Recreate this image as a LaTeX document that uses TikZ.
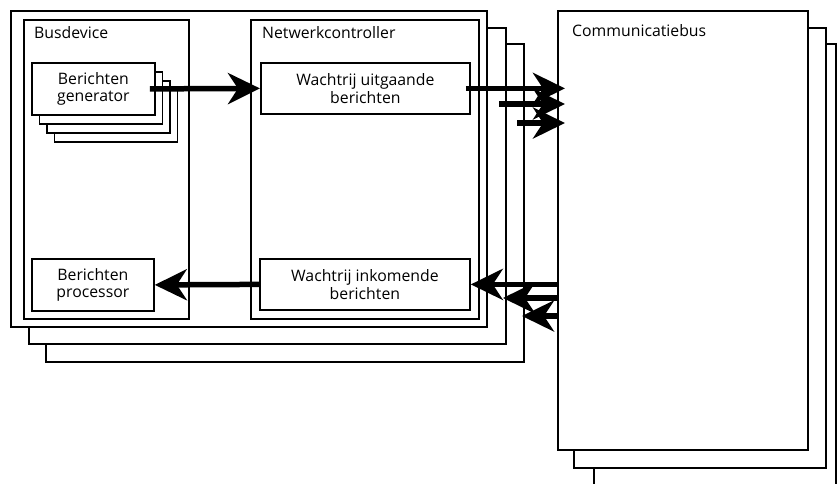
\documentclass[tikz,border=0pt]{standalone}
\usepackage{fontspec}
\setmainfont{Open Sans}
\usetikzlibrary{arrows.meta,calc}
\begin{document}
\begin{tikzpicture}[x=1pt,y=-1pt,
  frame/.style={draw,line width=1.8pt,fill=white,anchor=north west,inner sep=0pt},
  caption/.style={anchor=base west,font=\fontsize{15.8}{18}\selectfont,inner sep=0pt},
  textbox/.style={frame,align=center,font=\fontsize{15.8}{17.5}\selectfont},
  flow/.style={line width=5.5pt,-{Stealth[length=32pt,width=31pt,inset=10pt]}}]
\useasboundingbox (0,0) rectangle (838,483);
\begin{scope}
\clip (0,0) rectangle (838,483);
% stacked bus device frames, back to front
\node[frame,minimum width=478pt,minimum height=318pt] (dev3) at (45,43) {};
\node[frame,minimum width=477pt,minimum height=316pt] (dev2) at (28,27) {};
\node[frame,minimum width=476pt,minimum height=316pt] (dev1) at (10,10) {};
% stacked communication bus frames
\node[frame,minimum width=242pt,minimum height=460pt] (bus3) at (593,43) {};
\node[frame,minimum width=252pt,minimum height=440pt] (bus2) at (573,27) {};
\node[frame,minimum width=250pt,minimum height=439pt] (bus1) at (557,10) {};
\node[caption] (buslbl) at (572,36) {Communicatiebus};
% bus device and network controller
\node[frame,minimum width=165pt,minimum height=299pt] (busdev) at (23,19) {};
\node[caption] (busdevlbl) at (34,38) {Busdevice};
\node[frame,minimum width=228pt,minimum height=299pt] (netctl) at (250,19) {};
\node[caption] (netctllbl) at (262,38) {Netwerkcontroller};
% message generators (stack)
\node[frame,minimum width=123pt,minimum height=52pt] (gen4) at (53.5,89) {};
\node[frame,minimum width=123pt,minimum height=52pt] (gen3) at (46,80) {};
\node[frame,minimum width=123pt,minimum height=52pt] (gen2) at (38.5,71) {};
\node[textbox,minimum width=123pt,minimum height=52pt] (gen1) at (31,62) {Berichten\\generator};
% queues and processor
\node[textbox,minimum width=209pt,minimum height=51pt] (uit) at (260,62) {Wachtrij uitgaande\\berichten};
\node[textbox,minimum width=210pt,minimum height=51pt] (ink) at (259,258) {Wachtrij inkomende\\berichten};
\node[textbox,minimum width=122pt,minimum height=52pt] (proc) at (31,258) {Berichten\\processor};
% arrow end points beside the stacked frames
\coordinate (o2s) at (499,104);
\coordinate (o3s) at (517,123);
\coordinate (i2e) at (503,298);
\coordinate (i3e) at (522,316);
% outgoing traffic
\draw[flow] ([xshift=-6pt]gen1.east) -- (uit.west);
\draw[flow] ([xshift=-5pt]uit.east) -- ($(uit.east -| bus1.west)+(8,0)$);
\draw[flow] (o2s) -- ($(o2s -| bus1.west)+(8,0)$);
\draw[flow] (o3s) -- ($(o3s -| bus1.west)+(8,0)$);
% incoming traffic
\draw[flow] (ink.east -| bus1.west) -- (ink.east);
\draw[flow] (i2e -| bus1.west) -- (i2e);
\draw[flow] (i3e -| bus1.west) -- (i3e);
\draw[flow] (ink.west) -- (proc.east);
\end{scope}
\end{tikzpicture}
\end{document}
